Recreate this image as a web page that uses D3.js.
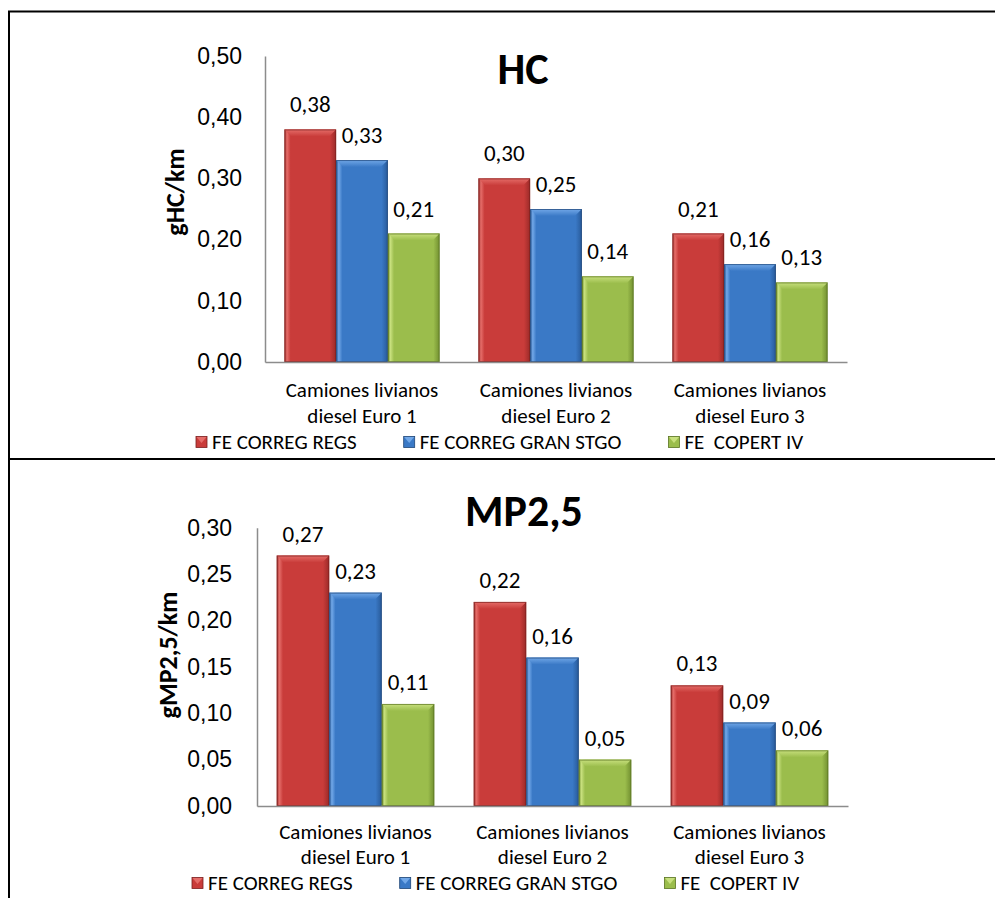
<!DOCTYPE html>
<html>
<head>
<meta charset="utf-8">
<script src="https://cdn.jsdelivr.net/npm/d3@7/dist/d3.min.js"></script>
<style>
  html, body { margin: 0; padding: 0; background: #ffffff; }
  svg { display: block; font-family: Carlito, Lato, "Open Sans", sans-serif; }
</style>
</head>
<body>
<svg id="chart" width="995" height="898"></svg>
<script>
// Categories (vehicle classes) and series names
const categories = ["Camiones livianos diesel Euro 1", "Camiones livianos diesel Euro 2", "Camiones livianos diesel Euro 3"];
const seriesNames = ["FE CORREG REGS", "FE CORREG GRAN STGO", "FE  COPERT IV"];

// HC emission factors (g/km)
const hcRegs   = [0.38, 0.30, 0.21];
const hcGran   = [0.33, 0.25, 0.16];
const hcCopert = [0.21, 0.14, 0.13];
const hcTicks  = [0, 0.1, 0.2, 0.3, 0.4, 0.5];

// MP2,5 emission factors (g/km)
const mpRegs   = [0.27, 0.22, 0.13];
const mpGran   = [0.23, 0.16, 0.09];
const mpCopert = [0.11, 0.05, 0.06];
const mpTicks  = [0, 0.05, 0.10, 0.15, 0.20, 0.25, 0.30];

const fmt = d3.formatLocale({decimal: ",", thousands: ".", grouping: [3], currency: ["", ""]}).format(".2f");

const palette = [
  {base: "#c93c3a", light: "#e56d69", dark: "#9a2a28", edge: "#7a1f1e"},
  {base: "#3a79c6", light: "#72a8e8", dark: "#285a99", edge: "#1f4677"},
  {base: "#9bbd4c", light: "#c8e07e", dark: "#718f30", edge: "#5a7422"}
];

const svg = d3.select("#chart");
const defs = svg.append("defs");

// Gradients for the bevelled bar bodies and their top facets
palette.forEach((p, i) => {
  const g = defs.append("linearGradient").attr("id", "body" + i)
    .attr("x1", 0).attr("x2", 1).attr("y1", 0).attr("y2", 0);
  g.append("stop").attr("offset", "0").attr("stop-color", p.dark);
  g.append("stop").attr("offset", "0.05").attr("stop-color", p.light);
  g.append("stop").attr("offset", "0.12").attr("stop-color", p.base);
  g.append("stop").attr("offset", "0.88").attr("stop-color", p.base);
  g.append("stop").attr("offset", "1").attr("stop-color", p.dark);
  const t = defs.append("linearGradient").attr("id", "top" + i)
    .attr("x1", 0).attr("x2", 0).attr("y1", 0).attr("y2", 1);
  t.append("stop").attr("offset", "0").attr("stop-color", p.light);
  t.append("stop").attr("offset", "1").attr("stop-color", p.base);
});

// Table-cell frame around the two charts
const frame = svg.append("g").attr("stroke", "#000").attr("stroke-width", 2).attr("fill", "none");
frame.append("line").attr("x1", 9).attr("y1", 11).attr("x2", 9).attr("y2", 898);
frame.append("line").attr("x1", 8).attr("y1", 11.5).attr("x2", 995).attr("y2", 11.5);
frame.append("line").attr("x1", 8).attr("y1", 459).attr("x2", 995).attr("y2", 459);

function bevelBar(g, x, y, w, h, i) {
  const p = palette[i];
  const b = Math.min(7, h / 2);
  g.append("rect").attr("x", x).attr("y", y).attr("width", w).attr("height", h)
    .attr("fill", `url(#body${i})`);
  g.append("polygon")
    .attr("points", [[x, y], [x + w, y], [x + w - b, y + b], [x + b, y + b]].map(d => d.join(",")).join(" "))
    .attr("fill", `url(#top${i})`);
  g.append("rect").attr("x", x + 0.5).attr("y", y + 0.5).attr("width", w - 1).attr("height", h - 1)
    .attr("fill", "none").attr("stroke", p.edge).attr("stroke-width", 1).attr("stroke-opacity", 0.7);
}

function drawChart(cfg) {
  const g = svg.append("g");
  const series = [cfg.regs, cfg.gran, cfg.copert];

  const y = d3.scaleLinear().domain([0, d3.max(cfg.ticks)]).range([cfg.bottom, cfg.top]);
  const x0 = d3.scaleBand().domain(categories).range([cfg.left, cfg.right])
    .paddingInner(0.2).paddingOuter(0.1);
  const x1 = d3.scaleBand().domain(seriesNames).range([0, x0.bandwidth()]);

  // Y axis
  const yAxis = d3.axisLeft(y).tickValues(cfg.ticks).tickFormat(fmt)
    .tickSizeInner(0).tickSizeOuter(0).tickPadding(cfg.tickPad);
  const ya = g.append("g").attr("transform", `translate(${cfg.left},0)`).call(yAxis);
  ya.select(".domain").attr("stroke", "#8c8c8c").attr("stroke-width", 1.5);
  ya.selectAll("text").attr("font-size", 23).attr("fill", "#000").attr("font-family", null);

  // Bars
  categories.forEach((c, ci) => {
    seriesNames.forEach((s, si) => {
      const v = series[si][ci];
      bevelBar(g, x0(c) + x1(s), y(v), x1.bandwidth(), y(0) - y(v), si);
    });
  });

  // X axis
  const xa = g.append("g").attr("transform", `translate(0,${cfg.bottom})`)
    .call(d3.axisBottom(x0).tickSize(0).tickFormat(""));
  xa.select(".domain").attr("stroke", "#8c8c8c").attr("stroke-width", 1.5);

  // Category labels on two lines
  categories.forEach(c => {
    const cut = c.indexOf(" diesel");
    [c.slice(0, cut), c.slice(cut + 1)].forEach((ln, li) => {
      g.append("text").attr("x", x0(c) + x0.bandwidth() / 2)
        .attr("y", cfg.bottom + cfg.catOffset + li * cfg.catStep)
        .attr("dy", "0.35em").attr("text-anchor", "middle").attr("font-size", 21).text(ln);
    });
  });

  // Value labels
  categories.forEach((c, ci) => {
    seriesNames.forEach((s, si) => {
      const v = series[si][ci];
      g.append("text").attr("x", x0(c) + x1(s) + x1.bandwidth() / 2).attr("y", y(v) - cfg.labelGap)
        .attr("dy", "0.35em").attr("text-anchor", "middle").attr("font-size", 23).text(fmt(v));
    });
  });

  // Title
  g.append("text").attr("x", cfg.titleX).attr("y", cfg.titleY).attr("dy", "0.35em")
    .attr("text-anchor", "middle").attr("font-size", 44).attr("font-weight", "bold").text(cfg.title);

  // Y axis title
  g.append("text").attr("transform", `translate(${cfg.yLabelX},${cfg.yLabelY}) rotate(-90)`)
    .attr("dy", "0.35em").attr("text-anchor", "middle").attr("font-size", 26).attr("font-weight", "bold")
    .text(cfg.yLabel);

  // Legend
  const ly = cfg.bottom + cfg.legendOffset;
  const leg = g.append("g");
  let cx = 0;
  seriesNames.forEach((s, si) => {
    const p = palette[si];
    const item = leg.append("g").attr("transform", `translate(${cx},0)`);
    item.append("rect").attr("x", 0).attr("y", ly - 5.5).attr("width", 11).attr("height", 11)
      .attr("fill", p.base).attr("stroke", p.edge).attr("stroke-width", 0.8);
    item.append("polygon")
      .attr("points", [[0.5, ly - 5], [10.5, ly - 5], [5.5, ly + 1]].map(d => d.join(",")).join(" "))
      .attr("fill", p.light);
    const t = item.append("text").attr("x", 16).attr("y", ly).attr("dy", "0.32em")
      .attr("font-size", 21).style("white-space", "pre").text(s);
    cx += 16 + t.node().getComputedTextLength() + 47;
  });
  leg.attr("transform", `translate(${cfg.legendLeft},0)`);
}

drawChart({
  regs: hcRegs, gran: hcGran, copert: hcCopert, ticks: hcTicks,
  left: 265, right: 847, top: 56, bottom: 362, tickPad: 23, labelGap: 25,
  catOffset: 28, catStep: 26, legendOffset: 80,
  title: "HC", titleX: 523, titleY: 69,
  yLabel: "gHC/km", yLabelX: 175, yLabelY: 192,
  legendLeft: 196
});

drawChart({
  regs: mpRegs, gran: mpGran, copert: mpCopert, ticks: mpTicks,
  left: 257, right: 848, top: 527.7, bottom: 806, tickPad: 25, labelGap: 22,
  catOffset: 26, catStep: 25, legendOffset: 77,
  title: "MP2,5", titleX: 524, titleY: 511,
  yLabel: "gMP2,5/km", yLabelX: 168, yLabelY: 655,
  legendLeft: 192
});
</script>
</body>
</html>
